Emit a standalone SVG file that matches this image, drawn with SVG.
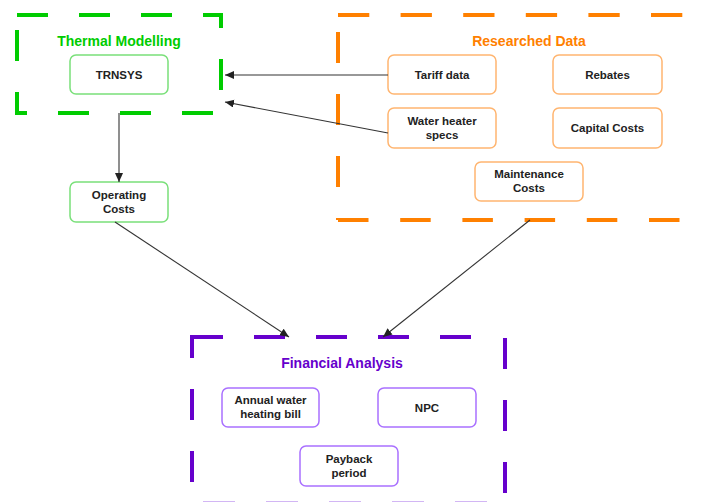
<svg xmlns="http://www.w3.org/2000/svg" width="711" height="502" viewBox="0 0 711 502">
<style>
  .grp{fill:none;stroke-width:4;stroke-dasharray:31 31}
  .title{font-family:"Liberation Sans",Arial,sans-serif;font-weight:bold;font-size:14px;text-anchor:middle}
  .node rect{fill:#fff;stroke-width:1.5}
  .node text{font-family:"Liberation Sans",Arial,sans-serif;font-weight:bold;font-size:11.5px;fill:#222;text-anchor:middle}
  .g rect{stroke:#7ae07a}
  .o rect{stroke:#ffb570}
  .p rect{stroke:#a970ff}
  .conn line{stroke:#333;stroke-width:1.1;marker-end:url(#arr)}
</style>
<defs>
  <marker id="arr" markerUnits="userSpaceOnUse" markerWidth="12" markerHeight="10" refX="9" refY="4" orient="auto">
    <path d="M0,0 L9,4 L0,8 z" fill="#222"/>
  </marker>
</defs>
<rect width="711" height="502" fill="#fff"/>

<g id="thermal-group">
  <rect class="grp" x="17" y="15" width="204" height="98" stroke="#00cc00"/>
  <text class="title" x="119" y="46" fill="#00cc00">Thermal Modelling</text>
</g>
<g id="research-group" stroke="#ff8000">
  <line class="grp" x1="338" y1="15" x2="700" y2="15" style="stroke-dasharray:31.3 31.3"/>
  <line class="grp" x1="338" y1="220" x2="700" y2="220" style="stroke-dasharray:30.5 31.7"/>
  <line class="grp" x1="338" y1="15" x2="338" y2="220" stroke-dashoffset="45"/>
  <text class="title" x="529" y="46" fill="#ff8000" stroke="none">Researched Data</text>
</g>
<g id="financial-group" stroke="#6600cc">
  <line class="grp" x1="192" y1="337" x2="500" y2="337"/>
  <line class="grp" x1="192" y1="335" x2="192" y2="502" stroke-dashoffset="8"/>
  <line class="grp" x1="505" y1="337" x2="505" y2="502" stroke-dashoffset="61"/>
  <line x1="203" y1="501.5" x2="505" y2="501.5" stroke="#d2b6f4" stroke-width="1" stroke-dasharray="32 31"/>
  <text class="title" x="342" y="368" fill="#6600cc" stroke="none">Financial Analysis</text>
</g>

<g id="trnsys" class="node g">
  <rect x="70" y="55" width="98" height="39" rx="6"/>
  <text x="119" y="78.5">TRNSYS</text>
</g>
<g id="operating-costs" class="node g">
  <rect x="70" y="182" width="98" height="40" rx="6"/>
  <text x="119" y="198.5">Operating</text>
  <text x="119" y="212.5">Costs</text>
</g>
<g id="tariff" class="node o">
  <rect x="388" y="55" width="108" height="39" rx="6"/>
  <text x="442" y="78.5">Tariff data</text>
</g>
<g id="rebates" class="node o">
  <rect x="553" y="55" width="109" height="39" rx="6"/>
  <text x="607.5" y="78.5">Rebates</text>
</g>
<g id="water-heater" class="node o">
  <rect x="388" y="108" width="108" height="40" rx="6"/>
  <text x="442" y="124.5">Water heater</text>
  <text x="442" y="138.5">specs</text>
</g>
<g id="capital" class="node o">
  <rect x="553" y="108" width="109" height="40" rx="6"/>
  <text x="607.5" y="132">Capital Costs</text>
</g>
<g id="maintenance" class="node o">
  <rect x="475" y="162" width="108" height="39" rx="6"/>
  <text x="529" y="178">Maintenance</text>
  <text x="529" y="192">Costs</text>
</g>
<g id="annual-bill" class="node p">
  <rect x="222" y="388" width="97" height="39" rx="6"/>
  <text x="270.5" y="404">Annual water</text>
  <text x="270.5" y="418">heating bill</text>
</g>
<g id="npc" class="node p">
  <rect x="378" y="388" width="98" height="39" rx="6"/>
  <text x="427" y="411.5">NPC</text>
</g>
<g id="payback" class="node p">
  <rect x="300" y="446" width="98" height="40" rx="6"/>
  <text x="349" y="462.5">Payback</text>
  <text x="349" y="476.5">period</text>
</g>

<g id="connectors" class="conn">
  <line x1="119" y1="113" x2="119" y2="182"/>
  <line x1="388" y1="75" x2="225" y2="75"/>
  <line x1="388" y1="133" x2="225" y2="102"/>
  <line x1="115" y1="222" x2="289" y2="337"/>
  <line x1="530" y1="220" x2="383" y2="337"/>
</g>
</svg>
